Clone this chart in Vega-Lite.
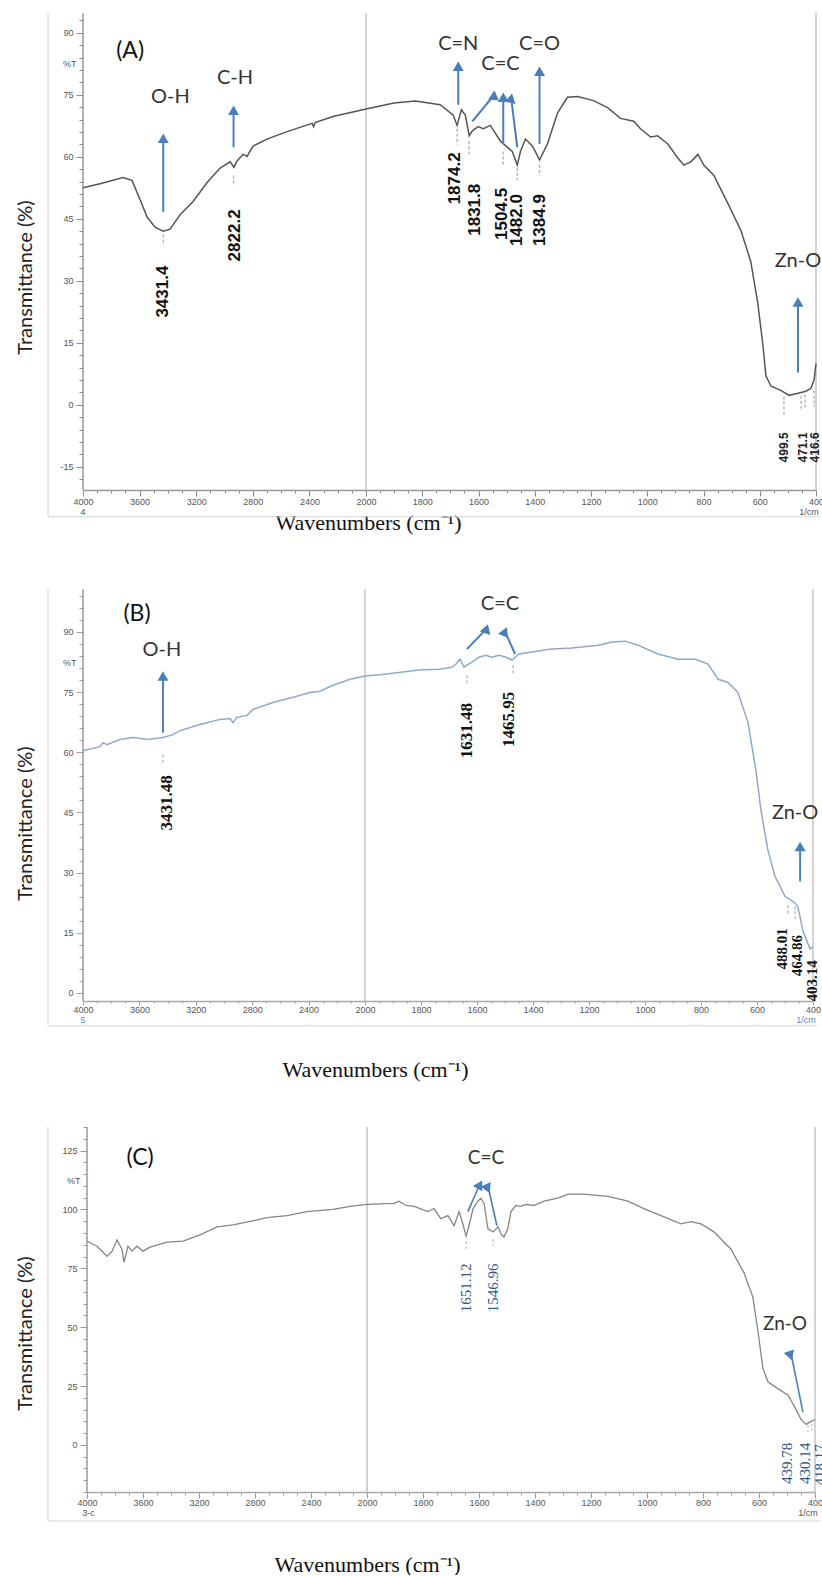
{
"$schema": "https://vega.github.io/schema/vega-lite/v6.json",
"padding": {"left": 15, "top": 12, "right": 0, "bottom": 0},
"spacing": 99,
"bounds": "flush",
"config": {"view": {"stroke": null}},
"datasets": {
"specA": [{"wn":4000,"t":52.5},{"wn":3880,"t":53.5},{"wn":3717,"t":55.0},{"wn":3654,"t":54.3},{"wn":3597,"t":49.7},{"wn":3548,"t":45.5},{"wn":3491,"t":43.0},{"wn":3434,"t":42.0},{"wn":3385,"t":42.5},{"wn":3314,"t":46.0},{"wn":3222,"t":49.2},{"wn":3123,"t":53.8},{"wn":3031,"t":57.3},{"wn":2960,"t":58.8},{"wn":2933,"t":57.5},{"wn":2911,"t":59.0},{"wn":2869,"t":60.6},{"wn":2841,"t":60.1},{"wn":2798,"t":62.6},{"wn":2700,"t":64.3},{"wn":2558,"t":66.1},{"wn":2381,"t":68.1},{"wn":2370,"t":67.3},{"wn":2360,"t":68.3},{"wn":2227,"t":69.8},{"wn":2100,"t":70.8},{"wn":2000,"t":71.6},{"wn":1900,"t":73.0},{"wn":1825,"t":73.5},{"wn":1736,"t":72.6},{"wn":1690,"t":70.1},{"wn":1676,"t":67.6},{"wn":1661,"t":71.4},{"wn":1647,"t":70.1},{"wn":1633,"t":65.1},{"wn":1622,"t":66.3},{"wn":1601,"t":67.3},{"wn":1583,"t":66.8},{"wn":1558,"t":67.6},{"wn":1522,"t":63.8},{"wn":1497,"t":62.3},{"wn":1480,"t":61.3},{"wn":1462,"t":58.0},{"wn":1451,"t":61.3},{"wn":1433,"t":64.3},{"wn":1408,"t":62.6},{"wn":1383,"t":59.3},{"wn":1355,"t":63.1},{"wn":1319,"t":70.6},{"wn":1284,"t":74.4},{"wn":1248,"t":74.6},{"wn":1191,"t":73.6},{"wn":1141,"t":71.9},{"wn":1095,"t":69.3},{"wn":1048,"t":68.6},{"wn":1024,"t":66.8},{"wn":988,"t":64.8},{"wn":963,"t":65.1},{"wn":927,"t":63.1},{"wn":892,"t":59.8},{"wn":870,"t":58.0},{"wn":845,"t":58.8},{"wn":820,"t":60.6},{"wn":799,"t":58.0},{"wn":763,"t":55.5},{"wn":713,"t":48.7},{"wn":667,"t":42.2},{"wn":632,"t":34.7},{"wn":607,"t":24.6},{"wn":589,"t":14.6},{"wn":578,"t":7.0},{"wn":560,"t":4.5},{"wn":525,"t":3.5},{"wn":496,"t":2.3},{"wn":464,"t":2.8},{"wn":436,"t":3.3},{"wn":418,"t":4.0},{"wn":407,"t":6.0},{"wn":400,"t":10.0}],
"linesA": [{"kind":"axis","wn":4000,"t":-20.6,"wn0":4000,"t0":94.8},{"kind":"grid","wn":2000,"t":-20.6,"wn0":2000,"t0":94.8},{"kind":"grid","wn":400,"t":-20.6,"wn0":400,"t0":94.8},{"kind":"frame","wn":4247,"t":-27.1,"wn0":4247,"t0":94.8},{"kind":"frame","wn":4247,"t":-27.1,"wn0":386,"t0":-27.1}],
"arrowA": [{"wn":3433,"t":64.5,"wn0":3433,"t0":46.7,"dir":"u"},{"wn":2936,"t":71.3,"wn0":2936,"t0":62.3,"dir":"u"},{"wn":1672,"t":81.9,"wn0":1672,"t0":72.6,"dir":"u"},{"wn":1545,"t":74.9,"wn0":1622,"t0":68.6,"dir":"r41"},{"wn":1512,"t":74.4,"wn0":1512,"t0":63.1,"dir":"u"},{"wn":1484,"t":74.2,"wn0":1462,"t0":62.3,"dir":"l8"},{"wn":1383,"t":80.7,"wn0":1383,"t0":63.1,"dir":"u"},{"wn":464,"t":24.9,"wn0":464,"t0":7.8,"dir":"u"}],
"labA": [{"wn":3383,"t":74.4,"text":"O-H"},{"wn":2926,"t":79.1,"text":"C-H"},{"wn":1672,"t":87.4,"text":"C=N"},{"wn":1522,"t":82.4,"text":"C=C"},{"wn":1383,"t":87.4,"text":"C=O"},{"wn":464,"t":34.9,"text":"Zn-O"}],
"headA": [{"wn":3667,"t":85.7,"text":"(A)"}],
"numA": [{"wn":3433,"t":27.4,"text":"3431.4"},{"wn":2926,"t":41.0,"text":"2822.2"},{"wn":1683,"t":54.8,"text":"1874.2"},{"wn":1612,"t":47.2,"text":"1831.8"},{"wn":1515,"t":46.2,"text":"1504.5"},{"wn":1462,"t":44.7,"text":"1482.0"},{"wn":1380,"t":44.7,"text":"1384.9"}],
"smallA": [{"wn":514,"t":-10.3,"text":"499.5"},{"wn":446,"t":-10.3,"text":"471.1"},{"wn":402,"t":-10.3,"text":"416.6"}],
"axtA": [{"wn":4000,"t":-25.9,"text":"4"},{"wn":425,"t":-25.9,"text":"1/cm"}],
"dashA": [{"wn":3433,"t":41.2,"t0":38.7},{"wn":2936,"t":55.5,"t0":53.0},{"wn":1676,"t":66.8,"t0":63.0},{"wn":1633,"t":63.8,"t0":60.6},{"wn":1512,"t":61.3,"t0":58.0},{"wn":1462,"t":57.3,"t0":54.3},{"wn":1383,"t":58.0,"t0":55.5},{"wn":514,"t":2.0,"t0":-2.3},{"wn":453,"t":2.2,"t0":-1.5},{"wn":439,"t":2.5,"t0":-1.2},{"wn":407,"t":3.5,"t0":-0.5}],
"specB": [{"wn":4000,"t":60.4},{"wn":3880,"t":61.4},{"wn":3858,"t":62.4},{"wn":3830,"t":61.9},{"wn":3738,"t":63.2},{"wn":3645,"t":63.7},{"wn":3546,"t":63.2},{"wn":3433,"t":63.7},{"wn":3362,"t":64.4},{"wn":3312,"t":65.4},{"wn":3170,"t":66.9},{"wn":3028,"t":68.2},{"wn":2957,"t":68.4},{"wn":2936,"t":67.4},{"wn":2908,"t":68.7},{"wn":2837,"t":69.2},{"wn":2794,"t":70.7},{"wn":2652,"t":72.4},{"wn":2511,"t":73.7},{"wn":2390,"t":74.9},{"wn":2319,"t":75.2},{"wn":2227,"t":76.7},{"wn":2106,"t":78.2},{"wn":2000,"t":79.0},{"wn":1939,"t":79.4},{"wn":1879,"t":79.9},{"wn":1807,"t":80.5},{"wn":1736,"t":80.7},{"wn":1689,"t":81.2},{"wn":1675,"t":82.0},{"wn":1661,"t":83.2},{"wn":1646,"t":81.2},{"wn":1636,"t":81.7},{"wn":1618,"t":82.5},{"wn":1593,"t":83.7},{"wn":1568,"t":84.2},{"wn":1547,"t":83.7},{"wn":1521,"t":84.2},{"wn":1497,"t":83.7},{"wn":1475,"t":83.0},{"wn":1450,"t":84.5},{"wn":1404,"t":85.0},{"wn":1343,"t":85.7},{"wn":1261,"t":86.0},{"wn":1166,"t":86.7},{"wn":1118,"t":87.5},{"wn":1070,"t":87.7},{"wn":1025,"t":86.7},{"wn":954,"t":84.5},{"wn":882,"t":83.2},{"wn":820,"t":83.2},{"wn":775,"t":82.0},{"wn":739,"t":78.2},{"wn":704,"t":77.4},{"wn":668,"t":74.9},{"wn":632,"t":67.4},{"wn":604,"t":55.6},{"wn":586,"t":45.6},{"wn":561,"t":35.6},{"wn":536,"t":29.1},{"wn":500,"t":24.1},{"wn":471,"t":22.8},{"wn":454,"t":21.6},{"wn":436,"t":15.5},{"wn":411,"t":11.0},{"wn":400,"t":11.5}],
"linesB": [{"kind":"axis","wn":4000,"t":-2.0,"wn0":4000,"t0":100.7},{"kind":"grid","wn":2000,"t":-2.0,"wn0":2000,"t0":100.7},{"kind":"grid","wn":400,"t":-2.0,"wn0":400,"t0":100.7},{"kind":"frame","wn":4248,"t":-8.2,"wn0":4248,"t0":100.7},{"kind":"frame","wn":4248,"t":-8.2,"wn0":386,"t0":-8.2}],
"arrowB": [{"wn":3433,"t":79.0,"wn0":3433,"t0":64.9,"dir":"u"},{"wn":1566,"t":90.8,"wn0":1636,"t0":85.7,"dir":"r44"},{"wn":1500,"t":90.1,"wn0":1464,"t0":84.5,"dir":"l24"},{"wn":446,"t":36.5,"wn0":446,"t0":27.8,"dir":"u"}],
"labB": [{"wn":3440,"t":85.5,"text":"O-H"},{"wn":1518,"t":97.0,"text":"C=C"},{"wn":464,"t":44.9,"text":"Zn-O"}],
"headB": [{"wn":3617,"t":94.5,"text":"(B)"}],
"numB": [{"wn":3405,"t":47.4,"text":"3431.48"},{"wn":1636,"t":65.4,"text":"1631.48"},{"wn":1486,"t":68.2,"text":"1465.95"}],
"smallB": [{"wn":511,"t":11.0,"text":"488.01"},{"wn":457,"t":9.3,"text":"464.86"},{"wn":402,"t":3.0,"text":"403.14"}],
"axtB": [{"wn":4000,"t":-6.8,"text":"5"},{"wn":425,"t":-6.8,"text":"1/cm"}],
"dashB": [{"wn":3433,"t":59.4,"t0":57.4},{"wn":1636,"t":79.2,"t0":76.9},{"wn":1471,"t":81.7,"t0":79.2},{"wn":489,"t":21.8,"t0":19.3},{"wn":464,"t":21.6,"t0":18.5}],
"specC": [{"wn":4000,"t":86.6},{"wn":3929,"t":84.4},{"wn":3857,"t":80.1},{"wn":3821,"t":82.3},{"wn":3786,"t":87.0},{"wn":3750,"t":83.1},{"wn":3736,"t":77.5},{"wn":3707,"t":84.4},{"wn":3679,"t":82.3},{"wn":3643,"t":84.4},{"wn":3600,"t":82.3},{"wn":3550,"t":84.0},{"wn":3429,"t":86.1},{"wn":3314,"t":86.6},{"wn":3193,"t":89.2},{"wn":3071,"t":92.6},{"wn":2957,"t":93.5},{"wn":2814,"t":95.2},{"wn":2714,"t":96.5},{"wn":2571,"t":97.4},{"wn":2429,"t":99.1},{"wn":2243,"t":100.0},{"wn":2121,"t":101.3},{"wn":2000,"t":102.2},{"wn":1904,"t":102.6},{"wn":1886,"t":103.5},{"wn":1861,"t":101.7},{"wn":1832,"t":101.3},{"wn":1782,"t":99.1},{"wn":1761,"t":100.4},{"wn":1736,"t":96.1},{"wn":1711,"t":97.4},{"wn":1689,"t":93.1},{"wn":1671,"t":99.1},{"wn":1661,"t":95.2},{"wn":1646,"t":88.7},{"wn":1636,"t":93.1},{"wn":1621,"t":100.4},{"wn":1604,"t":103.5},{"wn":1593,"t":104.8},{"wn":1582,"t":102.6},{"wn":1568,"t":91.8},{"wn":1550,"t":90.5},{"wn":1532,"t":92.6},{"wn":1521,"t":89.6},{"wn":1511,"t":88.3},{"wn":1497,"t":91.8},{"wn":1486,"t":99.1},{"wn":1468,"t":101.7},{"wn":1451,"t":101.3},{"wn":1433,"t":102.2},{"wn":1404,"t":101.7},{"wn":1368,"t":103.5},{"wn":1319,"t":104.8},{"wn":1282,"t":106.5},{"wn":1225,"t":106.5},{"wn":1139,"t":105.6},{"wn":1068,"t":103.5},{"wn":1011,"t":100.4},{"wn":950,"t":97.4},{"wn":879,"t":93.9},{"wn":843,"t":94.8},{"wn":807,"t":93.9},{"wn":761,"t":90.5},{"wn":700,"t":83.1},{"wn":654,"t":73.2},{"wn":622,"t":62.8},{"wn":604,"t":48.5},{"wn":586,"t":32.5},{"wn":568,"t":26.8},{"wn":532,"t":23.8},{"wn":497,"t":21.2},{"wn":468,"t":15.2},{"wn":450,"t":10.8},{"wn":432,"t":8.7},{"wn":414,"t":10.0},{"wn":400,"t":10.8}],
"linesC": [{"kind":"axis","wn":4000,"t":-20.0,"wn0":4000,"t0":135},{"kind":"grid","wn":2000,"t":-20.0,"wn0":2000,"t0":135},{"kind":"grid","wn":400,"t":-20.0,"wn0":400,"t0":135},{"kind":"frame","wn":4279,"t":-32.3,"wn0":4279,"t0":135},{"kind":"frame","wn":4279,"t":-32.3,"wn0":382,"t0":-32.3}],
"arrowC": [{"wn":1597,"t":110.6,"wn0":1640,"t0":99.1,"dir":"r26"},{"wn":1568,"t":110.0,"wn0":1536,"t0":93.1,"dir":"l12"},{"wn":486,"t":39.0,"wn0":443,"t0":13.9,"dir":"l11"}],
"labC": [{"wn":1575,"t":122,"text":"C=C"},{"wn":507,"t":51.5,"text":"Zn-O"}],
"headC": [{"wn":3621,"t":122,"text":"(C)"}],
"numC": [{"wn":1646,"t":66.7,"text":"1651.12"},{"wn":1550,"t":66.7,"text":"1546.96"},{"wn":500,"t":-7.8,"text":"439.78"},{"wn":436,"t":-7.8,"text":"430.14"},{"wn":382,"t":-8.5,"text":"418.17"}],
"axtC": [{"wn":3990,"t":-28.8,"text":"3-c"},{"wn":425,"t":-28.8,"text":"1/cm"}],
"dashC": [{"wn":1646,"t":86.6,"t0":83.1},{"wn":1550,"t":87.4,"t0":84.4},{"wn":425,"t":8.5,"t0":5.5},{"wn":411,"t":9.0,"t0":6.0}]
},
"vconcat": [
{
"width": 733, "height": 477,
"encoding": {
"x": {"field": "wn", "type": "quantitative",
 "scale": {"domain": [4000, 2000, 400], "range": [0, 283, 733], "nice": false, "zero": false},
 "axis": {"values": [4000,3900,3800,3700,3600,3500,3400,3300,3200,3100,3000,2900,2800,2700,2600,2500,2400,2300,2200,2100,2000,1950,1900,1850,1800,1750,1700,1650,1600,1550,1500,1450,1400,1350,1300,1250,1200,1150,1100,1050,1000,950,900,850,800,750,700,650,600,550,500,450,400],
  "labelExpr": "indexof([4000,3600,3200,2800,2400,2000,1800,1600,1400,1200,1000,800,600,400], datum.value) >= 0 ? '' + datum.value : ''",
  "tickSize": {"condition": {"test": "indexof([4000,3600,3200,2800,2400,2000,1800,1600,1400,1200,1000,800,600,400], datum.value) >= 0", "value": 6}, "value": 3},
  "labelOverlap": false, "labelFlush": false, "labelFont": "Liberation Sans", "labelFontSize": 9, "labelColor": "#555", "labelPadding": 1,
  "tickColor": "#8a8a8a", "domainColor": "#9a9a9a", "domainWidth": 1.5, "grid": false,
  "title": "Wavenumbers (cm⁻¹)", "titleFont": "Liberation Serif", "titleFontSize": 22, "titleFontWeight": "normal", "titleColor": "#111",
  "titleX": 285, "titleY": 39, "titleAlign": "center", "titleBaseline": "alphabetic"}},
"y": {"field": "t", "type": "quantitative",
 "scale": {"domain": [-20.6, 94.8], "nice": false, "zero": false},
 "axis": {"values": [-18,-15,-12,-9,-6,-3,0,3,6,9,12,15,18,21,24,27,30,33,36,39,42,45,48,51,54,57,60,63,66,69,72,75,78,81,82.5,84,87,90,93],
  "labelExpr": "datum.value % 15 === 0 ? '' + datum.value : (datum.value === 82.5 ? '%T' : '')",
  "tickSize": {"condition": {"test": "datum.value % 15 === 0", "value": 7}, "value": 4},
  "tickOpacity": {"condition": {"test": "datum.value === 82.5", "value": 0}, "value": 1},
  "labelOverlap": false, "labelFlush": false, "labelFont": "Liberation Sans", "labelFontSize": 9, "labelColor": "#555", "labelPadding": 3,
  "tickColor": "#8a8a8a", "domain": false, "grid": false,
  "title": "Transmittance (%)", "titleFont": "Lato", "titleFontSize": 20, "titleFontWeight": "normal", "titleColor": "#222",
  "titleAngle": 270, "titleX": -58, "titleY": 264, "titleAlign": "center", "titleBaseline": "middle"}}
},
"layer": [
{"data": {"name": "linesA"}, "mark": {"type": "rule"}, "encoding": {"x2": {"field": "wn0"}, "y2": {"field": "t0"},
 "color": {"field": "kind", "type": "nominal", "scale": {"domain": ["axis","grid","frame"], "range": ["#9a9a9a","#b8b8b8","#d4d4d4"]}, "legend": null},
 "strokeWidth": {"field": "kind", "type": "nominal", "scale": {"domain": ["axis","grid","frame"], "range": [1.5, 1, 2]}, "legend": null}}},
{"data": {"name": "specA"}, "mark": {"type": "line", "color": "#555555", "strokeWidth": 1.5}},
{"data": {"name": "dashA"}, "mark": {"type": "rule", "color": "#b8b8b8", "strokeDash": [3, 2], "strokeWidth": 1.5}, "encoding": {"y2": {"field": "t0"}}},
{"data": {"name": "arrowA"}, "mark": {"type": "rule", "color": "#4a7ebb", "strokeWidth": 2}, "encoding": {"x2": {"field": "wn0"}, "y2": {"field": "t0"}}},
{"data": {"name": "arrowA"}, "mark": {"type": "point", "shape": "triangle-up", "filled": true, "size": 120, "color": "#4a7ebb", "opacity": 1, "strokeWidth": 0},
 "encoding": {"angle": {"field": "dir", "type": "nominal", "scale": {"domain": ["u","r41","l8"], "range": [0, 41, 352]}, "legend": null}}},
{"data": {"name": "labA"}, "mark": {"type": "text", "font": "Lato", "fontSize": 20, "color": "#333", "align": "center", "baseline": "middle"}, "encoding": {"text": {"field": "text"}}},
{"data": {"name": "headA"}, "mark": {"type": "text", "font": "Lato", "fontSize": 23, "color": "#111", "align": "center", "baseline": "middle"}, "encoding": {"text": {"field": "text"}}},
{"data": {"name": "numA"}, "mark": {"type": "text", "font": "Liberation Sans", "fontSize": 17, "fontWeight": "bold", "color": "#111", "angle": 270, "align": "center", "baseline": "middle"}, "encoding": {"text": {"field": "text"}}},
{"data": {"name": "smallA"}, "mark": {"type": "text", "font": "Liberation Sans", "fontSize": 12, "fontWeight": "bold", "color": "#222", "angle": 270, "align": "center", "baseline": "middle"}, "encoding": {"text": {"field": "text"}}},
{"data": {"name": "axtA"}, "mark": {"type": "text", "font": "Liberation Sans", "fontSize": 9, "color": "#555", "align": "center", "baseline": "middle"}, "encoding": {"text": {"field": "text"}}}
]
},
{
"width": 730, "height": 412,
"encoding": {
"x": {"field": "wn", "type": "quantitative",
 "scale": {"domain": [4000, 2000, 400], "range": [0, 282, 730], "nice": false, "zero": false},
 "axis": {"values": [4000,3900,3800,3700,3600,3500,3400,3300,3200,3100,3000,2900,2800,2700,2600,2500,2400,2300,2200,2100,2000,1950,1900,1850,1800,1750,1700,1650,1600,1550,1500,1450,1400,1350,1300,1250,1200,1150,1100,1050,1000,950,900,850,800,750,700,650,600,550,500,450,400],
  "labelExpr": "indexof([4000,3600,3200,2800,2400,2000,1800,1600,1400,1200,1000,800,600,400], datum.value) >= 0 ? '' + datum.value : ''",
  "tickSize": {"condition": {"test": "indexof([4000,3600,3200,2800,2400,2000,1800,1600,1400,1200,1000,800,600,400], datum.value) >= 0", "value": 4}, "value": 2},
  "labelOverlap": false, "labelFlush": false, "labelFont": "Liberation Sans", "labelFontSize": 9, "labelColor": "#555", "labelPadding": 0,
  "tickColor": "#a0a0a0", "domainColor": "#a8a8a8", "domainWidth": 1.5, "grid": false,
  "title": "Wavenumbers (cm⁻¹)", "titleFont": "Liberation Serif", "titleFontSize": 22, "titleFontWeight": "normal", "titleColor": "#111",
  "titleX": 292, "titleY": 75, "titleAlign": "center", "titleBaseline": "alphabetic"}},
"y": {"field": "t", "type": "quantitative",
 "scale": {"domain": [-2.0, 100.7], "nice": false, "zero": false},
 "axis": {"values": [0,3,6,9,12,15,18,21,24,27,30,33,36,39,42,45,48,51,54,57,60,63,66,69,72,75,78,81,82.5,84,87,90,93,96,99],
  "labelExpr": "datum.value % 15 === 0 ? '' + datum.value : (datum.value === 82.5 ? '%T' : '')",
  "tickSize": {"condition": {"test": "datum.value % 15 === 0", "value": 7}, "value": 4},
  "tickOpacity": {"condition": {"test": "datum.value === 82.5", "value": 0}, "value": 1},
  "labelOverlap": false, "labelFlush": false, "labelFont": "Liberation Sans", "labelFontSize": 9, "labelColor": "#555", "labelPadding": 3,
  "tickColor": "#a0a0a0", "domain": false, "grid": false,
  "title": "Transmittance (%)", "titleFont": "Lato", "titleFontSize": 20, "titleFontWeight": "normal", "titleColor": "#222",
  "titleAngle": 270, "titleX": -58, "titleY": 234, "titleAlign": "center", "titleBaseline": "middle"}}
},
"layer": [
{"data": {"name": "linesB"}, "mark": {"type": "rule"}, "encoding": {"x2": {"field": "wn0"}, "y2": {"field": "t0"},
 "color": {"field": "kind", "type": "nominal", "scale": {"domain": ["axis","grid","frame"], "range": ["#a8a8a8","#c4c4c4","#d4d4d4"]}, "legend": null},
 "strokeWidth": {"field": "kind", "type": "nominal", "scale": {"domain": ["axis","grid","frame"], "range": [1.5, 1, 2]}, "legend": null}}},
{"data": {"name": "specB"}, "mark": {"type": "line", "color": "#8fa8cc", "strokeWidth": 1.5}},
{"data": {"name": "dashB"}, "mark": {"type": "rule", "color": "#c0c0c0", "strokeDash": [3, 2], "strokeWidth": 1.5}, "encoding": {"y2": {"field": "t0"}}},
{"data": {"name": "arrowB"}, "mark": {"type": "rule", "color": "#4a7ebb", "strokeWidth": 2}, "encoding": {"x2": {"field": "wn0"}, "y2": {"field": "t0"}}},
{"data": {"name": "arrowB"}, "mark": {"type": "point", "shape": "triangle-up", "filled": true, "size": 120, "color": "#4a7ebb", "opacity": 1, "strokeWidth": 0},
 "encoding": {"angle": {"field": "dir", "type": "nominal", "scale": {"domain": ["u","r44","l24"], "range": [0, 44, 336]}, "legend": null}}},
{"data": {"name": "labB"}, "mark": {"type": "text", "font": "Lato", "fontSize": 20, "color": "#333", "align": "center", "baseline": "middle"}, "encoding": {"text": {"field": "text"}}},
{"data": {"name": "headB"}, "mark": {"type": "text", "font": "Lato", "fontSize": 23, "color": "#111", "align": "center", "baseline": "middle"}, "encoding": {"text": {"field": "text"}}},
{"data": {"name": "numB"}, "mark": {"type": "text", "font": "Liberation Serif", "fontSize": 17, "fontWeight": "bold", "color": "#111", "angle": 270, "align": "center", "baseline": "middle"}, "encoding": {"text": {"field": "text"}}},
{"data": {"name": "smallB"}, "mark": {"type": "text", "font": "Liberation Serif", "fontSize": 15, "fontWeight": "bold", "color": "#111", "angle": 270, "align": "center", "baseline": "middle"}, "encoding": {"text": {"field": "text"}}},
{"data": {"name": "axtB"}, "mark": {"type": "text", "font": "Liberation Sans", "fontSize": 9, "color": "#5b8bd0", "align": "center", "baseline": "middle"}, "encoding": {"text": {"field": "text"}}}
]
},
{
"width": 732, "height": 392,
"encoding": {
"x": {"field": "wn", "type": "quantitative",
 "scale": {"domain": [4000, 2000, 400], "range": [4, 284, 732], "nice": false, "zero": false},
 "axis": {"values": [4000,3900,3800,3700,3600,3500,3400,3300,3200,3100,3000,2900,2800,2700,2600,2500,2400,2300,2200,2100,2000,1950,1900,1850,1800,1750,1700,1650,1600,1550,1500,1450,1400,1350,1300,1250,1200,1150,1100,1050,1000,950,900,850,800,750,700,650,600,550,500,450,400],
  "labelExpr": "indexof([4000,3600,3200,2800,2400,2000,1800,1600,1400,1200,1000,800,600,400], datum.value) >= 0 ? '' + datum.value : ''",
  "tickSize": {"condition": {"test": "indexof([4000,3600,3200,2800,2400,2000,1800,1600,1400,1200,1000,800,600,400], datum.value) >= 0", "value": 6}, "value": 3},
  "labelOverlap": false, "labelFlush": false, "labelFont": "Liberation Sans", "labelFontSize": 9, "labelColor": "#555", "labelPadding": 0,
  "tickColor": "#9a9a9a", "domainColor": "#a8a8a8", "domainWidth": 1.5, "grid": false,
  "title": "Wavenumbers (cm⁻¹)", "titleFont": "Liberation Serif", "titleFontSize": 22, "titleFontWeight": "normal", "titleColor": "#111",
  "titleX": 284, "titleY": 79, "titleAlign": "center", "titleBaseline": "alphabetic"}},
"y": {"field": "t", "type": "quantitative",
 "scale": {"domain": [-20.0, 146.5], "nice": false, "zero": false},
 "axis": {"offset": -4, "values": [-20,-15,-10,-5,0,5,10,15,20,25,30,35,40,45,50,55,60,65,70,75,80,85,90,95,100,105,110,112.5,115,120,125,130,135],
  "labelExpr": "datum.value % 25 === 0 ? '' + datum.value : (datum.value === 112.5 ? '%T' : '')",
  "tickSize": {"condition": {"test": "datum.value % 25 === 0", "value": 7}, "value": 4},
  "tickOpacity": {"condition": {"test": "datum.value === 112.5", "value": 0}, "value": 1},
  "labelOverlap": false, "labelFlush": false, "labelFont": "Liberation Sans", "labelFontSize": 9, "labelColor": "#555", "labelPadding": 3,
  "tickColor": "#9a9a9a", "domain": false, "grid": false,
  "title": "Transmittance (%)", "titleFont": "Lato", "titleFontSize": 20, "titleFontWeight": "normal", "titleColor": "#222",
  "titleAngle": 270, "titleX": -62, "titleY": 233, "titleAlign": "center", "titleBaseline": "middle"}}
},
"layer": [
{"data": {"name": "linesC"}, "mark": {"type": "rule"}, "encoding": {"x2": {"field": "wn0"}, "y2": {"field": "t0"},
 "color": {"field": "kind", "type": "nominal", "scale": {"domain": ["axis","grid","frame"], "range": ["#a8a8a8","#c4c4c4","#d4d4d4"]}, "legend": null},
 "strokeWidth": {"field": "kind", "type": "nominal", "scale": {"domain": ["axis","grid","frame"], "range": [1.5, 1, 2]}, "legend": null}}},
{"data": {"name": "specC"}, "mark": {"type": "line", "color": "#858585", "strokeWidth": 1.3}},
{"data": {"name": "dashC"}, "mark": {"type": "rule", "color": "#c0c0c0", "strokeDash": [3, 2], "strokeWidth": 1.2}, "encoding": {"y2": {"field": "t0"}}},
{"data": {"name": "arrowC"}, "mark": {"type": "rule", "color": "#4a7ebb", "strokeWidth": 1.6}, "encoding": {"x2": {"field": "wn0"}, "y2": {"field": "t0"}}},
{"data": {"name": "arrowC"}, "mark": {"type": "point", "shape": "triangle-up", "filled": true, "size": 120, "color": "#4a7ebb", "opacity": 1, "strokeWidth": 0},
 "encoding": {"angle": {"field": "dir", "type": "nominal", "scale": {"domain": ["r26","l12","l11"], "range": [26, 348, 349]}, "legend": null}}},
{"data": {"name": "labC"}, "mark": {"type": "text", "font": "Lato", "fontSize": 19, "color": "#333", "align": "center", "baseline": "middle"}, "encoding": {"text": {"field": "text"}}},
{"data": {"name": "headC"}, "mark": {"type": "text", "font": "Lato", "fontSize": 23, "color": "#111", "align": "center", "baseline": "middle"}, "encoding": {"text": {"field": "text"}}},
{"data": {"name": "numC"}, "mark": {"type": "text", "font": "Liberation Serif", "fontSize": 15, "color": "#34568b", "angle": 270, "align": "center", "baseline": "middle"}, "encoding": {"text": {"field": "text"}}},
{"data": {"name": "axtC"}, "mark": {"type": "text", "font": "Liberation Sans", "fontSize": 9, "color": "#555", "align": "center", "baseline": "middle"}, "encoding": {"text": {"field": "text"}}}
]
}
]
}
